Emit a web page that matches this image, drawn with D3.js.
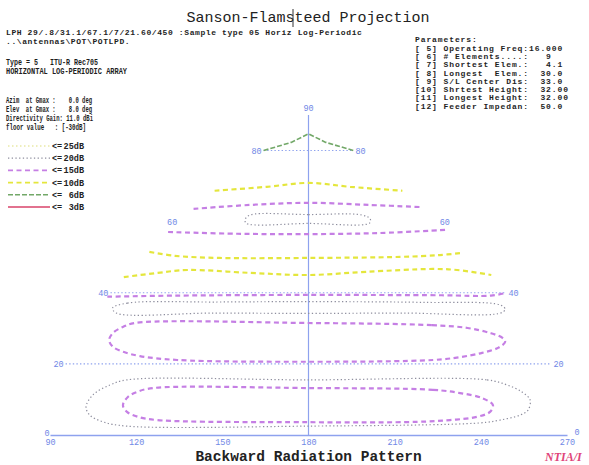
<!DOCTYPE html>
<html>
<head>
<meta charset="utf-8">
<script src="https://cdn.jsdelivr.net/npm/d3@7"></script>
<style>
  html, body { margin: 0; padding: 0; background: #fff; }
  svg { display: block; }
  text { white-space: pre; }
</style>
</head>
<body>
<svg id="chart" width="589" height="465"></svg>
<script>
// ---------------- data ----------------
const chartTitle = "Sanson-Flamsteed Projection";
const chartFooter = "Backward Radiation Pattern";
const logoText = "NTIA/I";

const runLines = [
  "LPH 29/.8/31.1/67.1/7/21.60/450 :Sample type 05 Horiz Log-Periodic",
  "..\\antennas\\POT\\POTLPD."
];
const typeLines = [
  "Type = 5   ITU-R Rec705",
  "HORIZONTAL LOG-PERIODIC ARRAY"
];
const gainLines = [
  "Azim  at Gmax :    0.0 deg",
  "Elev  at Gmax :    8.0 deg",
  "Directivity Gain: 11.0 dBi",
  "floor value   : [-30dB]"
];
const paramHeading = "Parameters:";
const paramLabels = [
  "[ 5] Operating Freq:",
  "[ 6] # Elements....:",
  "[ 7] Shortest Elem.:",
  "[ 8] Longest  Elem.:",
  "[ 9] S/L Center Dis:",
  "[10] Shrtest Height:",
  "[11] Longest Height:",
  "[12] Feeder Impedan:"
];
const paramValues = ["16.000", "   9", "   4.1", "  30.0", "  33.0", "  32.00", "  32.00", "  50.0"];

const azimuthTicks = [90, 120, 150, 180, 210, 240, 270];
const elevationLabels = [20, 40, 60, 80];
const gridElevations = [20, 40, 80];
const legendLevels = ["25dB", "20dB", "15dB", "10dB", "6dB", "3dB"];

// contour lines as [azimuth deg, elevation deg]
const zenith6dB = [[90, 80], [135, 82.3], [180, 84.7], [225, 82.3], [270, 80]];
const lobe4Lower10dB = [[90, 68.7], [138, 69.8], [180, 70.9], [222, 69.8], [270, 68.7]];
const lobe4Lower15dB = [[90, 63.6], [132, 64.7], [180, 65.3], [230, 64.7], [270, 64.1]];
const null60Island20dB = [[137, 61.9], [180, 62.0], [219, 61.9], [224, 60.8], [222, 59.6], [180, 59.5], [137, 59.6], [135, 60.8]];
const lobe3Upper15dB = [[90, 57.1], [135, 56.6], [180, 56.5], [225, 56.8], [270, 57.7]];
const lobe3Upper10dB = [[91, 51.5], [107, 50.4], [132, 49.8], [180, 49.8], [230, 50.1], [252, 50.6], [265, 51.2]];
const lobe3Lower10dB = [[90, 44.4], [105, 45.6], [119, 46.4], [151, 45.6], [180, 45.0], [209, 45.9], [243, 46.7], [255, 46.4], [270, 45.0]];
const lobe3Lower15dB = [[90, 38.9], [120, 39.2], [180, 39.4], [240, 39.3], [262, 39.2], [270, 40.0]];
const null36Island20dB = [[96, 35.7], [101, 37.1], [140, 37.4], [180, 37.5], [230, 37.3], [263, 36.6], [264, 35.4], [261, 34.3], [220, 34.3], [180, 34.2], [140, 34.3], [99, 34.3]];
const lobe2Ring15dB = [[180, 31.5], [230, 30.9], [244, 30.1], [252, 28.7], [256, 27.3], [256.3, 26.2], [252.5, 24.5], [245.7, 23.1], [236.8, 21.9], [226.5, 21.1], [180, 20.6], [131, 21.1], [116.6, 22.2], [109.7, 23.4], [105, 24.8], [102.3, 26.7], [102.4, 28.7], [105.1, 30.4], [109.2, 31.5]];
const lobe1Ring20dB = [[180, 15.5], [244.5, 15.5], [251.2, 14.1], [256, 12.1], [258.3, 9.9], [257, 7.0], [254, 5.6], [246.9, 4.2], [239.8, 3.4], [180, 2.5], [116.7, 2.5], [108.3, 3.7], [103.5, 5.6], [101.8, 7.9], [103.5, 11.3], [108.8, 14.1], [114.4, 15.5]];
const lobe1Ring15dB = [[180, 13.2], [224.4, 12.7], [233.9, 11.8], [241.4, 10.4], [244.9, 8.4], [243.6, 6.5], [238.9, 5.1], [229.4, 4.2], [217.9, 3.7], [180, 3.6], [127.1, 4.2], [120.4, 5.1], [116.4, 6.5], [114.7, 8.4], [116, 10.7], [118.9, 12.1], [124.4, 13.2]];

const contours = [
  { level: "20dB", closed: true, points: lobe1Ring20dB },
  { level: "15dB", closed: true, points: lobe1Ring15dB },
  { level: "15dB", closed: true, points: lobe2Ring15dB },
  { level: "20dB", closed: true, points: null36Island20dB },
  { level: "15dB", closed: false, points: lobe3Lower15dB },
  { level: "10dB", closed: false, points: lobe3Lower10dB },
  { level: "10dB", closed: false, points: lobe3Upper10dB },
  { level: "15dB", closed: false, points: lobe3Upper15dB },
  { level: "20dB", closed: true, points: null60Island20dB },
  { level: "15dB", closed: false, points: lobe4Lower15dB },
  { level: "10dB", closed: false, points: lobe4Lower10dB },
  { level: "6dB", closed: false, points: zenith6dB, straight: true }
];

// ---------------- styles ----------------
const levelStyle = {
  "25dB": { stroke: "#e9e9a6", width: 1.3, dash: "1.5,2.5" },
  "20dB": { stroke: "#8e8e9e", width: 1.2, dash: "1.3,2.4" },
  "15dB": { stroke: "#c57fe4", width: 2.2, dash: "5,3.5" },
  "10dB": { stroke: "#e4e63c", width: 2.2, dash: "5,3.5" },
  "6dB":  { stroke: "#72a868", width: 1.6, dash: "5,2" },
  "3dB":  { stroke: "#d8436a", width: 1.6, dash: null }
};
const axisBlue = "#8ea2ee";
const labelBlue = "#7088e6";
const monoFont = "'Liberation Mono', 'DejaVu Sans Mono', monospace";

// ---------------- chart ----------------
const svg = d3.select("#chart");

// Sanson-Flamsteed (sinusoidal) projection built on linear scales
const x = d3.scaleLinear().domain([90, 270]).range([50, 567]);
const y = d3.scaleLinear().domain([0, 90]).range([435, 115]);
const cx = x(180);
const rad = Math.PI / 180;
const projX = (az, el) => cx + (x(az) - cx) * Math.cos(el * rad);

// grid lines of constant elevation
svg.append("g").selectAll("line")
  .data(gridElevations)
  .join("line")
  .attr("x1", e => projX(90, e)).attr("x2", e => projX(270, e))
  .attr("y1", e => y(e)).attr("y2", e => y(e))
  .attr("stroke", axisBlue).attr("stroke-width", 1.1)
  .attr("stroke-dasharray", "1.4,2.2");

// central meridian (azimuth 180)
svg.append("line")
  .attr("x1", cx).attr("x2", cx)
  .attr("y1", y(0)).attr("y2", y(90))
  .attr("stroke", axisBlue).attr("stroke-width", 1.2);

// bottom azimuth axis
const axis = d3.axisBottom(x).tickValues(azimuthTicks).tickSize(0).tickPadding(4)
  .tickFormat(d3.format("d"));
const axisG = svg.append("g").attr("transform", `translate(0,${y(0)})`).call(axis);
axisG.select(".domain").attr("stroke", axisBlue).attr("stroke-width", 1.6);
axisG.selectAll("text")
  .attr("fill", labelBlue).attr("font-family", monoFont).attr("font-size", 8.5);

// elevation 0 labels at the axis ends
svg.append("text").attr("x", x(90) - 3).attr("y", y(0) + 1)
  .attr("text-anchor", "middle").attr("font-family", monoFont).attr("font-size", 8.5)
  .attr("fill", labelBlue).text("0");
svg.append("text").attr("x", x(270) + 10).attr("y", y(0))
  .attr("text-anchor", "middle").attr("font-family", monoFont).attr("font-size", 8.5)
  .attr("fill", labelBlue).text("0");

// elevation labels on both boundary meridians
const elevG = svg.append("g").attr("font-family", monoFont).attr("font-size", 8.5).attr("fill", labelBlue);
elevG.selectAll("text.l").data(elevationLabels).join("text").attr("class", "l")
  .attr("x", e => projX(90, e) - 2).attr("y", e => y(e)).attr("dy", "0.35em")
  .attr("text-anchor", "end").text(d => d);
elevG.selectAll("text.r").data(elevationLabels).join("text").attr("class", "r")
  .attr("x", e => projX(270, e) + 2).attr("y", e => y(e)).attr("dy", "0.35em")
  .attr("text-anchor", "start").text(d => d);
elevG.append("text").attr("x", cx).attr("y", y(90) - 4)
  .attr("text-anchor", "middle").text("90");

// contour lines
const curveOpen = d3.line().x(d => projX(d[0], d[1])).y(d => y(d[1])).curve(d3.curveCatmullRom.alpha(0.5));
const curveClosed = d3.line().x(d => projX(d[0], d[1])).y(d => y(d[1])).curve(d3.curveCatmullRomClosed.alpha(0.5));
const curveStraight = d3.line().x(d => projX(d[0], d[1])).y(d => y(d[1]));

svg.append("g").attr("fill", "none").selectAll("path")
  .data(contours)
  .join("path")
  .attr("d", c => (c.straight ? curveStraight : c.closed ? curveClosed : curveOpen)(c.points))
  .attr("stroke", c => levelStyle[c.level].stroke)
  .attr("stroke-width", c => levelStyle[c.level].width)
  .attr("stroke-dasharray", c => levelStyle[c.level].dash)
  .attr("stroke-linecap", "butt");

// ---------------- legend ----------------
const legend = svg.append("g").attr("font-family", monoFont).attr("font-size", 8.5)
  .attr("font-weight", "bold").attr("fill", "#222");
legendLevels.forEach((lv, i) => {
  const ly = 146 + i * 12.2;
  const s = levelStyle[lv];
  legend.append("line").attr("x1", 8).attr("x2", 50).attr("y1", ly).attr("y2", ly)
    .attr("stroke", s.stroke).attr("stroke-width", Math.min(s.width, 1.8))
    .attr("stroke-dasharray", s.dash);
  legend.append("text").attr("x", 52).attr("y", ly + 3).text("<=");
  legend.append("text").attr("x", 84).attr("y", ly + 3).attr("text-anchor", "end").text(lv);
});

// ---------------- header texts ----------------
svg.append("text").attr("x", 308).attr("y", 22).attr("text-anchor", "middle")
  .attr("font-family", monoFont).attr("font-size", 15).attr("fill", "#222").text(chartTitle);
svg.append("line").attr("x1", 293).attr("x2", 293).attr("y1", 9).attr("y2", 27)
  .attr("stroke", "#333").attr("stroke-width", 1);

const head = svg.append("g").attr("font-family", monoFont).attr("font-weight", "bold").attr("fill", "#1e1e1e");
head.selectAll("text.run").data(runLines).join("text").attr("class", "run")
  .attr("x", 6).attr("y", (d, i) => 35 + i * 8.5).attr("font-size", 8)
  .attr("letter-spacing", 0.6).text(d => d);

const typeWidths = [92, 121];
head.selectAll("text.type").data(typeLines).join("text").attr("class", "type")
  .attr("x", 6).attr("y", (d, i) => 65 + i * 9).attr("font-size", 8.5)
  .attr("textLength", (d, i) => typeWidths[i]).attr("lengthAdjust", "spacingAndGlyphs").text(d => d);

const gainWidths = [86, 86, 87, 80];
head.selectAll("text.gain").data(gainLines).join("text").attr("class", "gain")
  .attr("x", 6).attr("y", (d, i) => 103 + i * 9).attr("font-size", 8.5)
  .attr("textLength", (d, i) => gainWidths[i]).attr("lengthAdjust", "spacingAndGlyphs").text(d => d);

const params = svg.append("g").attr("font-family", monoFont).attr("font-weight", "bold")
  .attr("font-size", 8).attr("letter-spacing", 0.9).attr("fill", "#1e1e1e");
params.append("text").attr("x", 415).attr("y", 42).text(paramHeading);
params.selectAll("text.p").data(paramLabels).join("text").attr("class", "p")
  .attr("x", 415).attr("y", (d, i) => 50.6 + i * 8.3).text((d, i) => d + paramValues[i]);

// ---------------- footer ----------------
svg.append("text").attr("x", 308.5).attr("y", 461).attr("text-anchor", "middle")
  .attr("font-family", monoFont).attr("font-size", 14.5).attr("font-weight", "bold")
  .attr("fill", "#222").text(chartFooter);
svg.append("text").attr("x", 545).attr("y", 461)
  .attr("font-family", "'Liberation Serif', serif").attr("font-style", "italic")
  .attr("font-weight", "bold").attr("font-size", 12).attr("fill", "#e0457a").text(logoText);
</script>
</body>
</html>
